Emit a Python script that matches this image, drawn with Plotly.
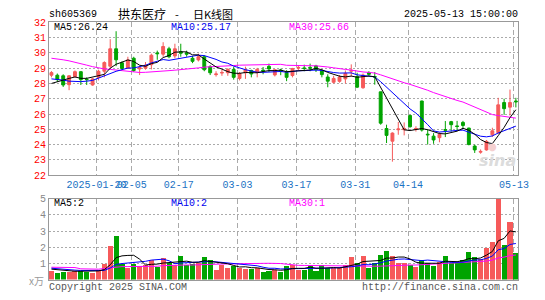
import plotly.graph_objects as go

# ---------------- data ----------------
dates = [
    "2025-01-08", "2025-01-09", "2025-01-10", "2025-01-13", "2025-01-14", "2025-01-15", "2025-01-16",
    "2025-01-17", "2025-01-20", "2025-01-21", "2025-01-22", "2025-01-23", "2025-01-24", "2025-01-27",
    "2025-02-05", "2025-02-06", "2025-02-07", "2025-02-10", "2025-02-11", "2025-02-12", "2025-02-13",
    "2025-02-14", "2025-02-17", "2025-02-18", "2025-02-19", "2025-02-20", "2025-02-21", "2025-02-24",
    "2025-02-25", "2025-02-26", "2025-02-27", "2025-02-28",
    "2025-03-03", "2025-03-04", "2025-03-05", "2025-03-06", "2025-03-07", "2025-03-10", "2025-03-11",
    "2025-03-12", "2025-03-13", "2025-03-14", "2025-03-17", "2025-03-18", "2025-03-19", "2025-03-20",
    "2025-03-21", "2025-03-24", "2025-03-25", "2025-03-26", "2025-03-27", "2025-03-28", "2025-03-31",
    "2025-04-01", "2025-04-02", "2025-04-03", "2025-04-07", "2025-04-08", "2025-04-09", "2025-04-10",
    "2025-04-11", "2025-04-14", "2025-04-15", "2025-04-16", "2025-04-17", "2025-04-18", "2025-04-21",
    "2025-04-22", "2025-04-23", "2025-04-24", "2025-04-25", "2025-04-28", "2025-04-29", "2025-04-30",
    "2025-05-06", "2025-05-07", "2025-05-08", "2025-05-09", "2025-05-12", "2025-05-13",
]
opens = [28.54, 28.54, 28.50, 27.92, 28.44, 28.77, 28.27, 27.90, 28.40, 28.80,
         29.13, 30.27, 29.35, 29.00, 29.65, 28.95, 29.00, 29.23, 30.00, 29.92,
         30.27, 29.80, 30.08, 30.00, 29.65, 29.54, 29.75, 29.10, 28.58, 28.68,
         28.70, 28.92, 28.33, 28.70, 28.85, 28.72, 28.87, 29.12, 28.56, 28.88,
         28.72, 28.52, 29.00, 29.02, 29.05, 29.15, 28.84, 28.42, 28.08, 28.14,
         28.30, 28.80, 28.45, 27.72, 28.70, 28.45, 27.45, 25.05, 24.22, 24.97,
         24.97, 25.90, 25.00, 26.85, 24.68, 24.55, 24.45, 24.98, 25.50, 25.22,
         25.45, 25.08, 23.90, 23.50, 23.65, 24.64, 24.78, 26.75, 26.45, 26.85]
highs = [28.81, 28.65, 28.60, 28.54, 28.85, 28.80, 28.40, 28.35, 28.90, 29.45,
         30.90, 31.42, 29.45, 29.75, 29.75, 29.16, 29.40, 29.95, 30.15, 30.70,
         30.40, 30.60, 30.60, 30.15, 29.80, 29.95, 29.85, 29.20, 28.80, 28.90,
         29.00, 29.10, 28.75, 29.10, 28.90, 29.02, 29.08, 29.30, 28.92, 28.96,
         28.87, 29.02, 29.20, 29.23, 29.30, 29.22, 28.92, 28.60, 28.50, 28.55,
         28.85, 29.25, 28.70, 28.65, 28.80, 28.75, 27.46, 25.30, 24.80, 25.48,
         25.45, 25.95, 25.20, 26.87, 25.00, 24.75, 24.80, 25.54, 25.55, 25.55,
         25.55, 25.10, 24.00, 23.68, 24.30, 25.10, 27.06, 27.00, 27.60, 27.06]
lows = [28.40, 28.10, 27.77, 27.56, 28.40, 27.90, 27.90, 27.85, 28.20, 28.40,
        29.00, 29.13, 28.90, 28.98, 28.75, 28.55, 28.90, 28.92, 29.55, 29.75,
        29.65, 29.65, 29.75, 29.75, 29.33, 29.44, 28.80, 28.55, 28.45, 28.50,
        28.50, 28.25, 28.20, 28.30, 28.40, 28.40, 28.60, 28.75, 28.46, 28.54,
        28.15, 28.40, 28.87, 28.80, 28.80, 28.75, 28.40, 27.75, 28.00, 28.05,
        28.00, 28.45, 27.70, 27.65, 28.50, 27.92, 25.30, 24.10, 22.88, 24.64,
        24.60, 25.10, 24.85, 24.85, 24.00, 24.05, 24.15, 24.49, 24.85, 24.90,
        25.05, 23.95, 23.45, 23.40, 23.60, 24.50, 24.70, 25.95, 25.90, 26.43]
closes = [28.71, 28.25, 27.90, 28.50, 28.77, 28.25, 28.25, 28.30, 28.80, 29.37,
          30.27, 29.55, 28.98, 29.54, 28.85, 29.05, 29.20, 29.85, 29.95, 30.42,
          29.75, 30.27, 29.98, 29.92, 29.45, 29.75, 28.90, 28.70, 28.62, 28.72,
          28.92, 28.40, 28.65, 28.90, 28.62, 28.92, 28.82, 28.95, 28.90, 28.78,
          28.40, 28.98, 29.05, 28.98, 29.00, 28.90, 28.58, 28.15, 28.33, 28.42,
          28.66, 28.86, 27.76, 28.55, 28.60, 28.42, 25.40, 24.60, 24.75, 25.02,
          25.05, 25.17, 25.05, 24.95, 24.64, 24.30, 24.66, 24.94, 25.30, 25.18,
          25.25, 24.00, 23.65, 23.55, 24.21, 24.90, 26.60, 26.35, 26.75, 26.80]
volumes = [0.56, 0.44, 0.50, 0.50, 0.56, 0.56, 0.50, 0.44, 0.60, 0.96,
           2.06, 2.70, 1.00, 0.74, 1.00, 0.86, 0.90, 1.20, 0.80, 1.34,
           1.06, 0.90, 1.44, 0.94, 1.00, 1.06, 1.40, 1.20, 0.60, 0.94,
           0.74, 0.86, 0.74, 0.66, 0.66, 0.70, 0.50, 0.56, 0.60, 0.50,
           0.86, 0.90, 0.60, 0.60, 0.86, 0.54, 0.90, 0.70, 0.70, 0.70,
           0.90, 1.40, 1.06, 1.50, 0.74, 1.06, 1.54, 1.80, 1.50, 1.06,
           1.06, 0.94, 0.80, 1.20, 1.06, 0.86, 1.10, 1.44, 1.06, 1.06,
           1.20, 1.70, 1.40, 1.30, 1.94, 2.34, 5.00, 2.16, 3.60, 1.66]

# moving-average values before enough visible history exists
ma5_head = [28.00, 28.12, 28.25, 28.33]
ma10_head = [28.30, 28.28, 28.22, 28.15, 28.12, 28.12, 28.15, 28.20, 28.35]
ma30_head = [29.65, 29.62, 29.55, 29.48, 29.40, 29.30, 29.20, 29.10, 29.00, 28.95,
             28.92, 28.88, 28.82, 28.77, 28.73, 28.72, 28.73, 28.75, 28.76, 28.80,
             28.84, 28.87, 28.90, 28.93, 28.97, 29.02, 29.07, 29.10, 29.13]
vma5_head = [0.64, 0.60, 0.55, 0.52]
vma10_head = [0.70, 0.66, 0.62, 0.60, 0.58, 0.56, 0.55, 0.55, 0.56]
vma30_head = [0.76, 0.76, 0.76, 0.76, 0.74, 0.66, 0.64, 0.64, 0.64, 0.68,
              0.72, 0.78, 0.80, 0.80, 0.80, 0.80, 0.80, 0.80, 0.82, 0.86,
              0.88, 0.90, 0.90, 0.90, 0.90, 0.92, 0.92, 0.94, 0.94]

tick_dates = ["2025-01-20", "2025-02-05", "2025-02-17", "2025-03-03",
              "2025-03-17", "2025-03-31", "2025-04-14", "2025-05-13"]
tick_text = ["2025-01-20", "02-05", "02-17", "03-03", "03-17", "03-31", "04-14", "05-13"]
price_ticks = [22, 23, 24, 25, 26, 27, 28, 29, 30, 31, 32]
vol_ticks = [1, 2, 3, 4, 5]

stock_code = "sh605369"
stock_name = "拱东医疗"
chart_kind = "日K线图"
timestamp = "2025-05-13 15:00:00"
ma_main_text = ["MA5:26.24", "MA10:25.17", "MA30:25.66"]
ma_vol_text = ["MA5:2", "MA10:2", "MA30:1"]

# ---------------- helpers ----------------
def moving_avg(vals, n, head):
    out = list(head)
    for i in range(n - 1, len(vals)):
        out.append(sum(vals[i - n + 1:i + 1]) / n)
    return out

RED = "#f65a5a"
GREEN = "#00a400"
BLUE_TXT = "#1a72c4"
MONO = "Liberation Mono, DejaVu Sans Mono, monospace"
CJK = "Noto Sans CJK SC, sans-serif"
W, H = 545, 300

idx = list(range(len(dates)))
tickpos = [dates.index(d) - 1.0 / 3 for d in tick_dates]
vol_colors = [RED if c > o else GREEN for o, c in zip(opens, closes)]

ma5 = moving_avg(closes, 5, ma5_head)
ma10 = moving_avg(closes, 10, ma10_head)
ma30 = moving_avg(closes, 30, ma30_head)
vma5 = moving_avg(volumes, 5, vma5_head)
vma10 = moving_avg(volumes, 10, vma10_head)
vma30 = moving_avg(volumes, 30, vma30_head)

fig = go.Figure()

# faint sina watermark (drawn first, behind the marks)
def ann(text, px, py, anchor="left", color="#000000", size=10, family=MONO, **kw):
    fig.add_annotation(text=text, x=px / W, y=1 - py / H, xref="paper", yref="paper",
                       xanchor=anchor, yanchor="middle", showarrow=False, borderpad=0,
                       font=dict(family=family, size=size, color=color), **kw)

fig.add_trace(go.Candlestick(
    x=idx, open=opens, high=highs, low=lows, close=closes,
    increasing=dict(line=dict(color=RED, width=1), fillcolor=RED),
    decreasing=dict(line=dict(color=GREEN, width=1), fillcolor=GREEN),
    whiskerwidth=0, hoverinfo="skip", showlegend=False, xaxis="x", yaxis="y"))
for ys, col in [(ma30, "#ff00ff"), (ma10, "#0000ff"), (ma5, "#000000")]:
    fig.add_trace(go.Scatter(x=idx, y=ys, mode="lines", line=dict(color=col, width=1),
                             hoverinfo="skip", showlegend=False, xaxis="x", yaxis="y"))

fig.add_trace(go.Bar(x=idx, y=volumes, marker=dict(color=vol_colors, line=dict(width=0)),
                     width=0.86, hoverinfo="skip", showlegend=False, xaxis="x2", yaxis="y2"))
for ys, col in [(vma30, "#ff00ff"), (vma10, "#0000ff"), (vma5, "#000000")]:
    fig.add_trace(go.Scatter(x=idx, y=ys, mode="lines", line=dict(color=col, width=1),
                             hoverinfo="skip", showlegend=False, xaxis="x2", yaxis="y2"))

# pixel geometry of panels
L, R = 50, 529
xdom = [L / W, R / W]
x_range = [-(52.5 - L) / 6.0, (R - 52.5) / 6.0]
main_top, main_bot = 19, 177
vol_top, vol_bot = 201.5, 285

axis_common = dict(showline=True, linecolor="#999999", linewidth=1, mirror=True,
                   zeroline=False, ticks="", fixedrange=True)

fig.update_layout(
    width=W, height=H, margin=dict(l=0, r=0, t=0, b=0),
    paper_bgcolor="white", plot_bgcolor="white",
    showlegend=False, bargap=0,
    xaxis=dict(domain=xdom, range=x_range, tickvals=tickpos, ticktext=tick_text,
               tickangle=0, tickfont=dict(family=MONO, size=10, color=BLUE_TXT),
               showgrid=True, gridcolor="#aaaaaa", griddash="5px,3px", gridwidth=1,
               rangeslider=dict(visible=False), anchor="y", **axis_common),
    yaxis=dict(domain=[1 - main_bot / H, 1 - main_top / H], range=[22, 32],
               tickvals=price_ticks, ticktext=[str(v) for v in price_ticks],
               tickfont=dict(family=MONO, size=10, color="#ff0000"),
               showgrid=True, gridcolor="#aaaaaa", griddash="2px,2px", gridwidth=1,
               anchor="x", **axis_common),
    xaxis2=dict(domain=xdom, range=x_range, tickvals=tickpos, showticklabels=False,
                showgrid=True, gridcolor="#aaaaaa", griddash="5px,3px", gridwidth=1,
                anchor="y2", **axis_common),
    yaxis2=dict(domain=[1 - vol_bot / H, 1 - vol_top / H], range=[0, 5],
                tickvals=vol_ticks, ticktext=[str(v) for v in vol_ticks],
                tickfont=dict(family=MONO, size=10, color="#888888"),
                showgrid=True, gridcolor="#aaaaaa", griddash="2px,2px", gridwidth=1,
                anchor="x2", **axis_common),
)

ann(stock_code, 49, 11)
ann(stock_name, 145, 10, anchor="center", size=12, family=CJK)
ann("-", 181, 10, anchor="center", size=11, family=CJK)
ann(chart_kind, 196, 10, anchor="left", size=11, family=CJK)
ann(timestamp, 530, 11, anchor="right")

ann(ma_main_text[0], 54, 24, color="#000000")
ann(ma_main_text[1], 173, 24, color="#0000ee")
ann(ma_main_text[2], 294, 24, color="#ff00ff")
ann(ma_vol_text[0], 54, 206, color="#000000")
ann(ma_vol_text[1], 174, 206, color="#0000ee")
ann(ma_vol_text[2], 294, 206, color="#ff00ff")

ann("x万", 46, 286, anchor="right", color="#999999", size=10, family=CJK)
ann("Copyright 2025 SINA.COM", 49, 293, color="#555555")
ann("http://finance.sina.com.cn", 530, 293, anchor="right", color="#555555")

ann("<b><i>sina</i></b>", 508, 162, anchor="center", color="#dcdcdc", size=16,
    family="DejaVu Sans, sans-serif")
ann("●", 503, 147, anchor="center", color="#f5d0d0", size=10, family="DejaVu Sans, sans-serif")

fig.write_html("out.html")
